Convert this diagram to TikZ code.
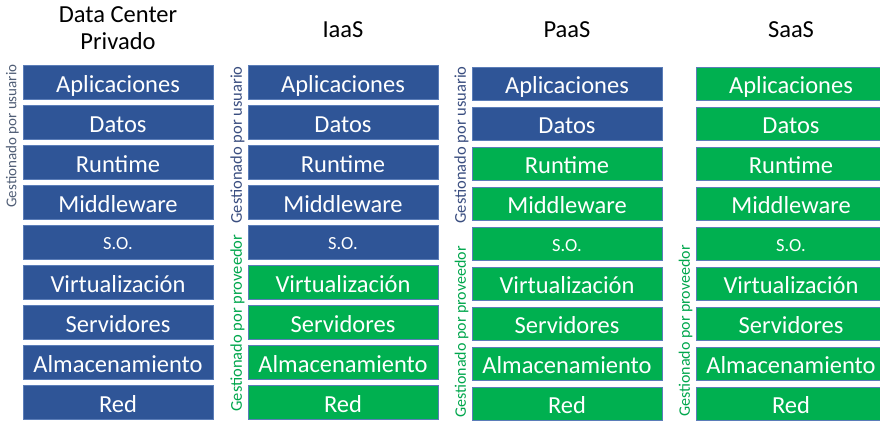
\documentclass[tikz,border=0pt]{standalone}
\usepackage{fontspec}
\setmainfont{Carlito}
\usetikzlibrary{positioning}
\definecolor{cblue}{HTML}{2F5597}
\definecolor{cgreen}{HTML}{00B050}
\definecolor{cedge}{HTML}{5B7DB8}
\definecolor{cslate}{HTML}{4F5D75}
\definecolor{cnavy}{HTML}{3A4E80}
\definecolor{cleaf}{HTML}{00A64C}
\newcommand{\sofont}{\fontsize{18.5}{22}\selectfont}
\newcommand{\stacklayers}{Aplicaciones, Datos, Runtime, Middleware, {\sofont\raisebox{2.5pt}{S.O.}}, Virtualización, Servidores, Almacenamiento, Red}
\tikzset{
  every picture/.style={x=1pt, y=-1pt},
  stackbox/.style={draw=cedge, fill=#1, line width=0.8pt, text=white, minimum width=190pt, minimum height=33.5pt, inner sep=0pt, text height=20pt, text depth=0pt, font=\fontsize{24.5}{28}\selectfont},
  heading/.style={font=\fontsize{24.5}{27}\selectfont, align=center},
  side/.style={text=#1, rotate=90, font=\fontsize{16.5}{18}\selectfont, inner sep=0pt},
}

\begin{document}
\begin{tikzpicture}
  \useasboundingbox (0,0) rectangle (880,421);
  % private data center
  \begin{scope}[xshift=23pt]
    \node[heading] (dc) at (95,28) {Data Center\\Privado};
    \def\nuser{9}
    \foreach \lbl [count=\i] in \stacklayers {
      \ifnum\i>\nuser \def\clr{cgreen}\else\def\clr{cblue}\fi
      \node[stackbox=\clr] (dc\i) at (95,{42.25+40*\i}) {\lbl};
    }
    \node[side=cslate, font=\fontsize{15}{18}\selectfont] (dcuser) at (-10.5,136) {Gestionado por usuario};
  \end{scope}
  % IaaS
  \begin{scope}[xshift=248pt]
    \node[heading] (iaas) at (95,30) {IaaS};
    \def\nuser{5}
    \foreach \lbl [count=\i] in \stacklayers {
      \ifnum\i>\nuser \def\clr{cgreen}\else\def\clr{cblue}\fi
      \node[stackbox=\clr] (iaas\i) at (95,{42.25+40*\i}) {\lbl};
    }
    \node[side=cnavy] (iaasuser) at (-10.5,145) {Gestionado por usuario};
    \node[side=cleaf] (iaasprov) at (-10.5,323) {Gestionado por proveedor};
  \end{scope}
  % PaaS
  \begin{scope}[xshift=472pt]
    \node[heading] (paas) at (95,30) {PaaS};
    \def\nuser{2}
    \foreach \lbl [count=\i] in \stacklayers {
      \ifnum\i>\nuser \def\clr{cgreen}\else\def\clr{cblue}\fi
      \node[stackbox=\clr] (paas\i) at (95,{43.75+40*\i}) {\lbl};
    }
    \node[side=cnavy] (paasuser) at (-10.5,145) {Gestionado por usuario};
    \node[side=cleaf, font=\fontsize{16}{18}\selectfont] (paasprov) at (-10.5,332) {Gestionado por proveedor};
  \end{scope}
  % SaaS
  \begin{scope}[xshift=696pt]
    \node[heading] (saas) at (95,30) {SaaS};
    \def\nuser{0}
    \foreach \lbl [count=\i] in \stacklayers {
      \ifnum\i>\nuser \def\clr{cgreen}\else\def\clr{cblue}\fi
      \node[stackbox=\clr] (saas\i) at (95,{43.75+40*\i}) {\lbl};
    }
    \node[side=cleaf, font=\fontsize{16}{18}\selectfont] (saasprov) at (-10.5,331) {Gestionado por proveedor};
  \end{scope}
\end{tikzpicture}
\end{document}
